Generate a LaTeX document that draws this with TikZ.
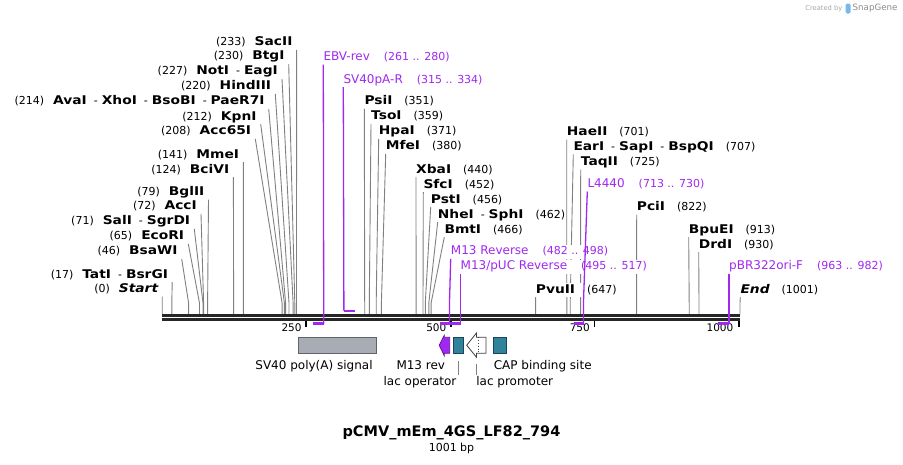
\documentclass[tikz,border=0pt]{standalone}
\usepackage{fontspec}
\setmainfont{DejaVu Sans}
\newfontfamily\enzfamily{DejaVu Sans}[FakeStretch=1.15]
\usetikzlibrary{backgrounds}

\definecolor{primer}{RGB}{160,40,240}
\definecolor{primerdark}{RGB}{105,20,165}
\definecolor{cutgray}{RGB}{128,128,128}
\definecolor{seqdark}{RGB}{38,38,38}
\definecolor{regteal}{RGB}{49,130,155}
\definecolor{regtealdark}{RGB}{25,70,90}
\definecolor{polyagray}{RGB}{168,173,181}
\definecolor{polyadark}{RGB}{95,100,108}
\definecolor{logoblue}{RGB}{120,185,235}

\newcommand{\cutname}[1]{{\fontsize{12}{14}\enzfamily\bfseries #1}}
\newcommand{\cutend}[1]{{\fontsize{12}{14}\enzfamily\bfseries\itshape #1}}
\newcommand{\cutpos}[1]{{\fontsize{11}{13}\selectfont(#1)}}
\newcommand{\cutsep}{\hspace{7pt}{\fontsize{11}{13}\selectfont -}\hspace{4pt}}
\newcommand{\primerlab}[2]{#1\hspace{14pt}{\fontsize{11}{13}\selectfont(#2)}}

\tikzset{
  cutleft/.style={anchor=east, fill=white, inner xsep=4pt, inner ysep=1pt, text height=9pt, text depth=3pt},
  cutright/.style={anchor=west, fill=white, inner xsep=0pt, inner ysep=1pt, text height=9pt, text depth=3pt},
  cutline/.style={draw=cutgray, line width=0.9pt},
  primerlabel/.style={anchor=west, fill=white, text=primer, font=\fontsize{12}{14}\selectfont, inner xsep=0pt, inner ysep=1pt, text height=9pt, text depth=3pt},
  primerline/.style={draw=primer, line width=1.3pt},
  primerbar/.style={draw=primer, line width=2.4pt},
  seqline/.style={draw=seqdark, line width=2.6pt},
  rulertick/.style={draw=black, line width=1.8pt},
  rulerlabel/.style={anchor=east, inner sep=0pt, font=\fontsize{10.5}{12}\selectfont},
  featbox/.style={draw, line width=0.8pt, minimum height=16pt, inner sep=0pt},
  featlabel/.style={inner sep=1pt, text height=9pt, text depth=3pt, font=\fontsize{12}{14}\selectfont},
  featlead/.style={draw=cutgray, line width=0.8pt},
}

\begin{document}
\begin{tikzpicture}[x=1pt, y=-1pt]
    \useasboundingbox (0,0) rectangle (903,464);

    \coordinate (s0) at (162.2,314);
    \coordinate (s17) at (171.8,314);
    \coordinate (s46) at (188.6,314);
    \coordinate (s65) at (199.5,314);
    \coordinate (s71) at (203.0,314);
    \coordinate (s72) at (203.6,314);
    \coordinate (s79) at (207.6,314);
    \coordinate (s124) at (233.6,314);
    \coordinate (s141) at (243.4,314);
    \coordinate (s208) at (282.1,314);
    \coordinate (s212) at (284.4,314);
    \coordinate (s214) at (285.6,314);
    \coordinate (s220) at (289.0,314);
    \coordinate (s227) at (293.1,314);
    \coordinate (s230) at (294.8,314);
    \coordinate (s233) at (296.5,314);
    \coordinate (s351) at (364.7,314);
    \coordinate (s359) at (369.3,314);
    \coordinate (s371) at (376.2,314);
    \coordinate (s380) at (381.4,314);
    \coordinate (s440) at (416.1,314);
    \coordinate (s452) at (423.0,314);
    \coordinate (s456) at (425.3,314);
    \coordinate (s462) at (428.8,314);
    \coordinate (s466) at (431.1,314);
    \coordinate (s647) at (535.6,314);
    \coordinate (s701) at (566.8,314);
    \coordinate (s707) at (570.2,314);
    \coordinate (s725) at (580.6,314);
    \coordinate (s822) at (636.6,314);
    \coordinate (s913) at (689.2,314);
    \coordinate (s930) at (699.0,314);
    \coordinate (s1001) at (740.0,314);

    \node[cutleft] (cSacII) at (296.6,42.7) {\cutpos{233}\hspace{9pt}\cutname{SacII}};
    \node[cutleft] (cBtgI) at (288.7,56.7) {\cutpos{230}\hspace{9pt}\cutname{BtgI}};
    \node[cutleft] (cNotI) at (282,71.7) {\cutpos{227}\hspace{9pt}\cutname{NotI}\cutsep\cutname{EagI}};
    \node[cutleft] (cHindIII) at (275.3,86.7) {\cutpos{220}\hspace{9pt}\cutname{HindIII}};
    \node[cutleft] (cAvaI) at (268.7,101.7) {\cutpos{214}\hspace{9pt}\cutname{AvaI}\cutsep\cutname{XhoI}\cutsep\cutname{BsoBI}\cutsep\cutname{PaeR7I}};
    \node[cutleft] (cKpnI) at (260.7,117) {\cutpos{212}\hspace{9pt}\cutname{KpnI}};
    \node[cutleft] (cAcc65I) at (255.3,131.7) {\cutpos{208}\hspace{9pt}\cutname{Acc65I}};
    \node[cutleft] (cMmeI) at (243.3,155) {\cutpos{141}\hspace{9pt}\cutname{MmeI}};
    \node[cutleft] (cBciVI) at (233.4,170) {\cutpos{124}\hspace{9pt}\cutname{BciVI}};
    \node[cutleft] (cBglII) at (208.5,192.3) {\cutpos{79}\hspace{9pt}\cutname{BglII}};
    \node[cutleft] (cAccI) at (201,206.7) {\cutpos{72}\hspace{9pt}\cutname{AccI}};
    \node[cutleft] (cSalI) at (194.3,221.7) {\cutpos{71}\hspace{9pt}\cutname{SalI}\cutsep\cutname{SgrDI}};
    \node[cutleft] (cEcoRI) at (188.3,236.7) {\cutpos{65}\hspace{9pt}\cutname{EcoRI}};
    \node[cutleft] (cBsaWI) at (181.7,251.7) {\cutpos{46}\hspace{9pt}\cutname{BsaWI}};
    \node[cutleft] (cTatI) at (172.2,275) {\cutpos{17}\hspace{9pt}\cutname{TatI}\cutsep\cutname{BsrGI}};
    \node[cutleft] (cStart) at (162.3,289.3) {\cutpos{0}\hspace{9pt}\cutend{Start}};

    \node[cutright] (cPsiI) at (364.3,101.7) {\cutname{PsiI}\hspace{12pt}\cutpos{351}};
    \node[cutright] (cTsoI) at (371,116.7) {\cutname{TsoI}\hspace{12pt}\cutpos{359}};
    \node[cutright] (cHpaI) at (378.7,131.7) {\cutname{HpaI}\hspace{12pt}\cutpos{371}};
    \node[cutright] (cMfeI) at (385.7,146.7) {\cutname{MfeI}\hspace{12pt}\cutpos{380}};
    \node[cutright] (cXbaI) at (416,170) {\cutname{XbaI}\hspace{12pt}\cutpos{440}};
    \node[cutright] (cSfcI) at (423.3,185) {\cutname{SfcI}\hspace{12pt}\cutpos{452}};
    \node[cutright] (cPstI) at (430.7,200) {\cutname{PstI}\hspace{12pt}\cutpos{456}};
    \node[cutright] (cNheI) at (437.7,215) {\cutname{NheI}\cutsep\cutname{SphI}\hspace{12pt}\cutpos{462}};
    \node[cutright] (cBmtI) at (444.3,230) {\cutname{BmtI}\hspace{12pt}\cutpos{466}};
    \node[cutright] (cPvuII) at (535.7,290) {\cutname{PvuII}\hspace{12pt}\cutpos{647}};
    \node[cutright] (cHaeII) at (566.7,132.3) {\cutname{HaeII}\hspace{12pt}\cutpos{701}};
    \node[cutright] (cEarI) at (573.3,147.3) {\cutname{EarI}\cutsep\cutname{SapI}\cutsep\cutname{BspQI}\hspace{12pt}\cutpos{707}};
    \node[cutright] (cTaqII) at (580.7,162.3) {\cutname{TaqII}\hspace{12pt}\cutpos{725}};
    \node[cutright] (cPciI) at (636.7,207.3) {\cutname{PciI}\hspace{12pt}\cutpos{822}};
    \node[cutright] (cBpuEI) at (688.7,230) {\cutname{BpuEI}\hspace{12pt}\cutpos{913}};
    \node[cutright] (cDrdI) at (698.7,245) {\cutname{DrdI}\hspace{12pt}\cutpos{930}};
    \node[cutright] (cEnd) at (740.3,290) {\cutend{End}\hspace{12pt}\cutpos{1001}};

    \node[primerlabel] (pEBV) at (323.3,57.3) {\primerlab{EBV-rev}{261 .. 280}};
    \node[primerlabel] (pSV40) at (343.3,80) {\primerlab{SV40pA-R}{315 .. 334}};
    \node[primerlabel] (pL4440) at (587.3,184.3) {\primerlab{L4440}{713 .. 730}};
    \node[primerlabel] (pM13) at (450.7,251.7) {\primerlab{M13 Reverse}{482 .. 498}};
    \node[primerlabel] (pPUC) at (460.5,266.7) {\primerlab{M13/pUC Reverse}{495 .. 517}};
    \node[primerlabel] (pPBR) at (729,266.7) {\primerlab{pBR322ori-F}{963 .. 982}};

    \begin{pgfonlayer}{background}
        \draw[cutline] (cSacII.south east) -- ([yshift=11pt]s233) -- (s233);
        \draw[cutline] (cBtgI.south east) -- ([yshift=11pt]s230) -- (s230);
        \draw[cutline] (cNotI.south east) -- ([yshift=11pt]s227) -- (s227);
        \draw[cutline] (cHindIII.south east) -- ([yshift=11pt]s220) -- (s220);
        \draw[cutline] (cAvaI.south east) -- ([yshift=11pt]s214) -- (s214);
        \draw[cutline] (cKpnI.south east) -- ([yshift=11pt]s212) -- (s212);
        \draw[cutline] (cAcc65I.south east) -- ([yshift=11pt]s208) -- (s208);
        \draw[cutline] (cMmeI.south east) -- ([yshift=11pt]s141) -- (s141);
        \draw[cutline] (cBciVI.south east) -- ([yshift=11pt]s124) -- (s124);
        \draw[cutline] (cBglII.south east) -- ([yshift=11pt]s79) -- (s79);
        \draw[cutline] (cAccI.south east) -- ([yshift=11pt]s72) -- (s72);
        \draw[cutline] (cSalI.south east) -- ([yshift=11pt]s71) -- (s71);
        \draw[cutline] (cEcoRI.south east) -- ([yshift=11pt]s65) -- (s65);
        \draw[cutline] (cBsaWI.south east) -- ([yshift=11pt]s46) -- (s46);
        \draw[cutline] (cTatI.south east) -- ([yshift=11pt]s17) -- (s17);
        \draw[cutline] (cStart.south east) -- ([yshift=11pt]s0) -- (s0);
        \draw[cutline] (cPsiI.south west) -- ([yshift=11pt]s351) -- (s351);
        \draw[cutline] (cTsoI.south west) -- ([yshift=11pt]s359) -- (s359);
        \draw[cutline] (cHpaI.south west) -- ([yshift=11pt]s371) -- (s371);
        \draw[cutline] (cMfeI.south west) -- ([yshift=11pt]s380) -- (s380);
        \draw[cutline] (cXbaI.south west) -- ([yshift=11pt]s440) -- (s440);
        \draw[cutline] (cSfcI.south west) -- ([yshift=11pt]s452) -- (s452);
        \draw[cutline] (cPstI.south west) -- ([yshift=11pt]s456) -- (s456);
        \draw[cutline] (cNheI.south west) -- ([yshift=11pt]s462) -- (s462);
        \draw[cutline] (cBmtI.south west) -- ([yshift=11pt]s466) -- (s466);
        \draw[cutline] (cPvuII.south west) -- ([yshift=11pt]s647) -- (s647);
        \draw[cutline] (cHaeII.south west) -- ([yshift=11pt]s701) -- (s701);
        \draw[cutline] (cEarI.south west) -- ([yshift=11pt]s707) -- (s707);
        \draw[cutline] (cTaqII.south west) -- ([yshift=11pt]s725) -- (s725);
        \draw[cutline] (cPciI.south west) -- ([yshift=11pt]s822) -- (s822);
        \draw[cutline] (cBpuEI.south west) -- ([yshift=11pt]s913) -- (s913);
        \draw[cutline] (cDrdI.south west) -- ([yshift=11pt]s930) -- (s930);
        \draw[cutline] (cEnd.south west) -- ([yshift=11pt]s1001) -- (s1001);
    \end{pgfonlayer}

    \coordinate (seqL) at (162.2,315.4);
    \coordinate (seqR) at (740.3,315.4);
    \draw[seqline] (seqL) -- (seqR);
    \draw[seqline] ([yshift=-4.2pt]seqL) -- ([yshift=-4.2pt]seqR);

    \coordinate (t250) at (306.3,320.6);
    \coordinate (t500) at (450.6,320.6);
    \coordinate (t750) at (594.5,320.6);
    \coordinate (t1000) at (739.2,320.6);
    \draw[rulertick] (t250) -- ([yshift=-6.5pt]t250);
    \draw[rulertick] (t500) -- ([yshift=-6.5pt]t500);
    \draw[rulertick] (t750) -- ([yshift=-6.5pt]t750);
    \draw[rulertick] (t1000) -- ([yshift=-6.5pt]t1000);
    \node[rulerlabel] (r250) at (301.8,328) {250};
    \node[rulerlabel] (r500) at (446.5,328) {500};
    \node[rulerlabel] (r750) at (590,328) {750};
    \node[rulerlabel] (r1000) at (733.5,328) {1000};

    \coordinate (ebvL) at (312.7,323.6);
    \coordinate (ebvR) at (323.7,323.6);
    \coordinate (svL) at (343.9,310.8);
    \coordinate (svR) at (354.9,310.8);
    \coordinate (m13L) at (440.3,323.6);
    \coordinate (m13R) at (449.5,323.6);
    \coordinate (pucL) at (447.8,323.6);
    \coordinate (pucR) at (460.5,323.6);
    \coordinate (l44L) at (573.7,323.6);
    \coordinate (l44R) at (583.5,323.6);
    \coordinate (pbrL) at (718,323.6);
    \coordinate (pbrR) at (729,323.6);
    \draw[primerline] (pEBV.south west) -- ([yshift=22pt]ebvR) -- (ebvR);
    \draw[primerline] (pSV40.south west) -- (svL);
    \draw[primerline] (pL4440.south west) -- ([yshift=22pt]l44R) -- (l44R);
    \draw[primerline] (pM13.south west) -- ([yshift=22pt]m13R) -- (m13R);
    \draw[primerline] (pPUC.south west) -- ([yshift=22pt]pucR) -- (pucR);
    \draw[primerline] (pPBR.south west) -- ([yshift=22pt]pbrR) -- (pbrR);
    \draw[primerbar] (ebvL) -- (ebvR);
    \draw[primerbar] (svL) -- (svR);
    \draw[primerbar] (m13L) -- (m13R);
    \draw[primerbar] (pucL) -- (pucR);
    \draw[primerbar] (l44L) -- (l44R);
    \draw[primerbar] (pbrL) -- (pbrR);

    \node[featbox, fill=polyagray, draw=polyadark, minimum width=78.4pt] (polyA) at (337.5,345.2) {};
    \node[featbox, fill=regteal, draw=regtealdark, minimum width=10pt] (lacop) at (458.3,345.2) {};
    \node[featbox, fill=regteal, draw=regtealdark, minimum width=13.4pt] (cap) at (500,345.2) {};
    \draw[fill=primer, draw=primerdark, line width=0.8pt] (449.7,337.3) -- (444.3,337.3) -- (444.3,335.3) -- (439.2,345.2) -- (444.3,355.8) -- (444.3,353.3) -- (449.7,353.3) -- cycle;
    \coordinate (lacprom) at (476.4,357.3);
    \draw[fill=white, draw=black!75, line width=0.8pt] (486,337.3) -- (476.5,337.3) -- (476.5,333) -- (466.7,345.2) -- (476.5,357.3) -- (476.5,353.3) -- (486,353.3) -- cycle;
    \draw[dotted, draw=black!75, line width=0.8pt] (478,337.3) -- (478,353.3);

    \node[featlabel] (tpolyA) at (314,366.7) {SV40 poly(A) signal};
    \node[featlabel] (tm13rev) at (420.8,366.7) {M13 rev};
    \node[featlabel] (tcap) at (542.7,366.7) {CAP binding site};
    \node[featlabel] (tlacop) at (420,382.3) {lac operator};
    \node[featlabel] (tlacprom) at (514.7,382.3) {lac promoter};
    \draw[featlead] ([yshift=-7.5pt]lacop.south) -- (lacop.south |- tlacop.north);
    \draw[featlead] ([yshift=-7pt]lacprom) -- (lacprom |- tlacprom.north);

    \node[font=\fontsize{14.5}{17}\selectfont\bfseries] (title) at (451.5,433.3) {pCMV\_mEm\_4GS\_LF82\_794};
    \node[font=\fontsize{11}{13}\selectfont] (size) at (451.5,448) {1001 bp};

    \node[anchor=east, inner sep=0pt, text=black!35, font=\fontsize{6.7}{8}\selectfont] (wmby) at (842.5,8.5) {Created by};
    \fill[logoblue, rounded corners=1.5pt] (845.5,3.5) rectangle (850.5,13.5);
    \node[anchor=west, inner sep=0pt, text=black!45, font=\fontsize{8.7}{10}\selectfont] (wmsg) at (852.5,8.5) {SnapGene};
\end{tikzpicture}
\end{document}
